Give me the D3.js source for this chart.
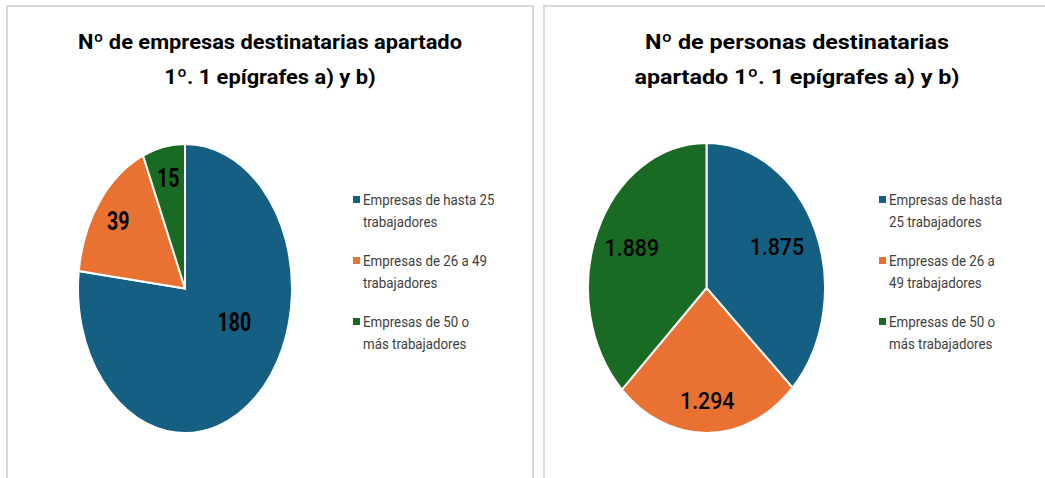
<!DOCTYPE html>
<meta charset="utf-8">
<script src="https://d3js.org/d3.v7.min.js"></script>
<style>
  body { margin: 0; background: #fff; }
  text { font-family: Roboto, "Liberation Sans", sans-serif; }
</style>
<svg id="chart" width="1045" height="478"></svg>

<script>

// categories and values
const categories = ["Empresas de hasta 25 trabajadores", "Empresas de 26 a 49 trabajadores", "Empresas de 50 o más trabajadores"];
const empresasValues = [180, 39, 15];
const personasValues = [1875, 1294, 1889];
const empresasLabels = ["180", "39", "15"];
const personasLabels = ["1.875", "1.294", "1.889"];

// titles and wrapped legend lines
const empresasTitle = ["Nº de empresas destinatarias apartado", "1º. 1 epígrafes a) y b)"];
const personasTitle = ["Nº de personas destinatarias", "apartado 1º. 1 epígrafes a) y b)"];
const empresasLegend = [["Empresas de hasta 25", "trabajadores"], ["Empresas de 26 a 49", "trabajadores"], ["Empresas de 50 o", "más trabajadores"]];
const personasLegend = [["Empresas de hasta", "25 trabajadores"], ["Empresas de 26 a", "49 trabajadores"], ["Empresas de 50 o", "más trabajadores"]];

const colors = ["#156082", "#E97132", "#196B24"];

const svg = d3.select("#chart");

// width factors to get close to the original font's proportions
const narrow = { legend: 0.95, boldLabel: 0.78, label: 0.89 };
function squeeze(sel, k) {
  sel.each(function() {
    const w = this.getComputedTextLength();
    d3.select(this).attr("textLength", w * k).attr("lengthAdjust", "spacingAndGlyphs");
  });
}

// panel frames
svg.append("rect").attr("x", 7).attr("y", 6).attr("width", 526).attr("height", 490)
  .attr("fill", "none").attr("stroke", "#D9D9D9").attr("stroke-width", 2);
svg.append("rect").attr("x", 544).attr("y", 6).attr("width", 520).attr("height", 490)
  .attr("fill", "none").attr("stroke", "#D9D9D9").attr("stroke-width", 2);

function drawPie(opt) {
  const g = svg.append("g");

  // title
  g.selectAll(".title")
    .data(opt.title)
    .enter().append("text")
    .attr("class", "title")
    .attr("x", opt.titleX)
    .attr("y", (d, i) => 49 + i * 35)
    .attr("text-anchor", "middle")
    .style("font-size", "21px").style("font-weight", "bold").style("fill", "#000")
    .text(d => d)
    .call(squeeze, opt.titleSqueeze);

  const pie = d3.pie().sort(null).startAngle(0).endAngle(2 * Math.PI);
  const arcs = pie(opt.values);
  const sy = opt.ry / opt.rx;
  const arc = d3.arc().innerRadius(0).outerRadius(opt.rx);
  const labelArc = d3.arc().innerRadius(opt.rx * opt.fit).outerRadius(opt.rx * opt.fit);

  g.append("g")
    .attr("transform", `translate(${opt.cx},${opt.cy}) scale(1,${sy})`)
    .selectAll("path")
    .data(arcs)
    .enter().append("path")
    .attr("d", arc)
    .attr("fill", (d, i) => colors[i])
    .attr("stroke", "#fff")
    .attr("stroke-width", 2)
    .attr("vector-effect", "non-scaling-stroke");

  // data labels
  g.selectAll(".lbl")
    .data(arcs)
    .enter().append("text")
    .attr("class", "lbl")
    .attr("x", (d, i) => opt.cx + labelArc.centroid(d)[0] + (opt.nudge[i] || [0, 0])[0])
    .attr("y", (d, i) => opt.cy + labelArc.centroid(d)[1] * sy + (opt.nudge[i] || [0, 0])[1])
    .attr("text-anchor", "middle")
    .attr("dy", "0.36em")
    .style("font-weight", opt.labelWeight)
    .style("font-size", opt.labelSize)
    .style("fill", "#000")
    .text((d, i) => opt.labels[i])
    .call(squeeze, opt.labelSqueeze);

  // legend
  const leg = g.selectAll(".leg")
    .data(opt.legend)
    .enter().append("g")
    .attr("class", "leg")
    .attr("transform", (d, i) => `translate(${opt.legendX},${200 + i * 61})`);

  leg.append("rect")
    .attr("x", -10).attr("y", -4).attr("width", 7).attr("height", 7)
    .attr("fill", (d, i) => colors[i]);

  leg.selectAll("text")
    .data(d => d)
    .enter().append("text")
    .attr("x", 0)
    .attr("y", (d, i) => 5 + i * 22)
    .style("font-size", "14px").style("fill", "#404040")
    .text(d => d)
    .call(squeeze, narrow.legend);
}

drawPie({
  title: empresasTitle, titleX: 270, titleSqueeze: 1.04,
  values: empresasValues, labels: empresasLabels, legend: empresasLegend,
  cx: 185, cy: 288.5, rx: 107, ry: 144.5, fit: 0.78,
  nudge: [[-6, -51], [0, 0], [0, 0]],
  labelWeight: "bold", labelSize: "25px", labelSqueeze: narrow.boldLabel,
  legendX: 363
});

drawPie({
  title: personasTitle, titleX: 797, titleSqueeze: 1.11,
  values: personasValues, labels: personasLabels, legend: personasLegend,
  cx: 706.5, cy: 288, rx: 118.5, ry: 145, fit: 0.72,
  nudge: [[-8, 0], [0, 8], [4, 0]],
  labelWeight: "500", labelSize: "24px", labelSqueeze: narrow.label,
  legendX: 889
});

</script>
